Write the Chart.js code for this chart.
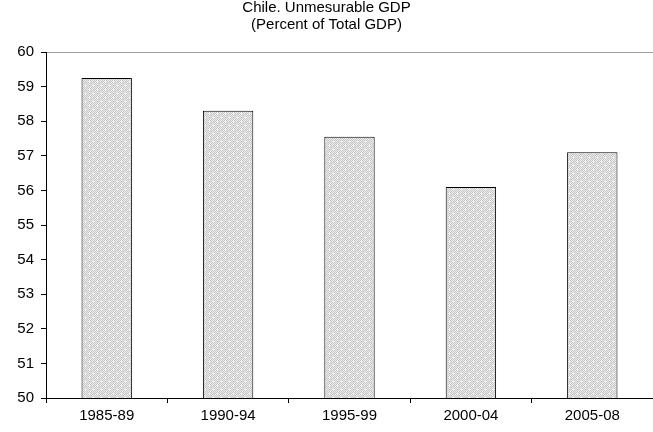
<!DOCTYPE html>
<html>
<head>
<meta charset="utf-8">
<script src="https://cdn.jsdelivr.net/npm/chart.js@4.4.1/dist/chart.umd.min.js"></script>
<style>
  html, body { margin: 0; padding: 0; background: #fff; }
  canvas { display: block; }
</style>
</head>
<body>
<canvas id="chart" width="653" height="432"></canvas>
<script>
const periods = ['1985-89', '1990-94', '1995-99', '2000-04', '2005-08'];
const unmeasurableShare = [59.25, 58.3, 57.55, 56.1, 57.1];
const titleLines = ['Chile. Unmesurable GDP', '(Percent of Total GDP)'];

// dotted grey fill like the old excel pattern
function makePattern() {
  const c = document.createElement('canvas');
  c.width = 8; c.height = 8;
  const g = c.getContext('2d');
  g.fillStyle = '#e8e8e8';
  g.fillRect(0, 0, 8, 8);
  g.fillStyle = '#cacaca';
  for (let y = 0; y < 8; y++) {
    for (let x = 0; x < 8; x++) {
      if ((x + y) % 2 === 0) g.fillRect(x, y, 1, 1);
    }
  }
  g.fillStyle = '#ffffff';
  g.fillRect(1, 1, 1, 1);
  g.fillRect(5, 5, 1, 1);
  return g.createPattern(c, 'repeat');
}

const ctx = document.getElementById('chart');
new Chart(ctx, {
  type: 'bar',
  data: {
    labels: periods,
    datasets: [{
      data: unmeasurableShare,
      backgroundColor: makePattern(),
      borderColor: '#000',
      borderWidth: 1,
      borderSkipped: false,
      categoryPercentage: 0.83,
      barPercentage: 0.5
    }]
  },
  options: {
    responsive: false,
    animation: false,
    layout: { padding: { top: 0, right: 0, bottom: 3, left: 0 } },
    plugins: {
      legend: { display: false },
      tooltip: { enabled: false },
      title: {
        display: true,
        text: titleLines,
        color: '#000',
        font: { family: 'Liberation Sans, Arial, sans-serif', size: 15, weight: 'normal', lineHeight: 1.1 },
        padding: { top: 0, bottom: 19 }
      }
    },
    scales: {
      x: {
        offset: true,
        grid: { offset: true, color: 'transparent', tickColor: '#000', tickLength: 5 },
        border: { color: '#000', width: 1 },
        ticks: {
          color: '#000',
          padding: 4,
          font: { family: 'Liberation Sans, Arial, sans-serif', size: 15 }
        }
      },
      y: {
        min: 50,
        max: 60,
        afterFit(scale) { scale.width = 46; },
        grid: {
          color: c => c.tick && c.tick.value === 60 ? '#a0a0a0' : 'transparent',
          tickColor: '#000',
          tickLength: 5
        },
        border: { color: '#000', width: 1 },
        ticks: {
          stepSize: 1,
          color: '#000',
          padding: 7,
          font: { family: 'Liberation Sans, Arial, sans-serif', size: 15 }
        }
      }
    }
  }
});
</script>
</body>
</html>
